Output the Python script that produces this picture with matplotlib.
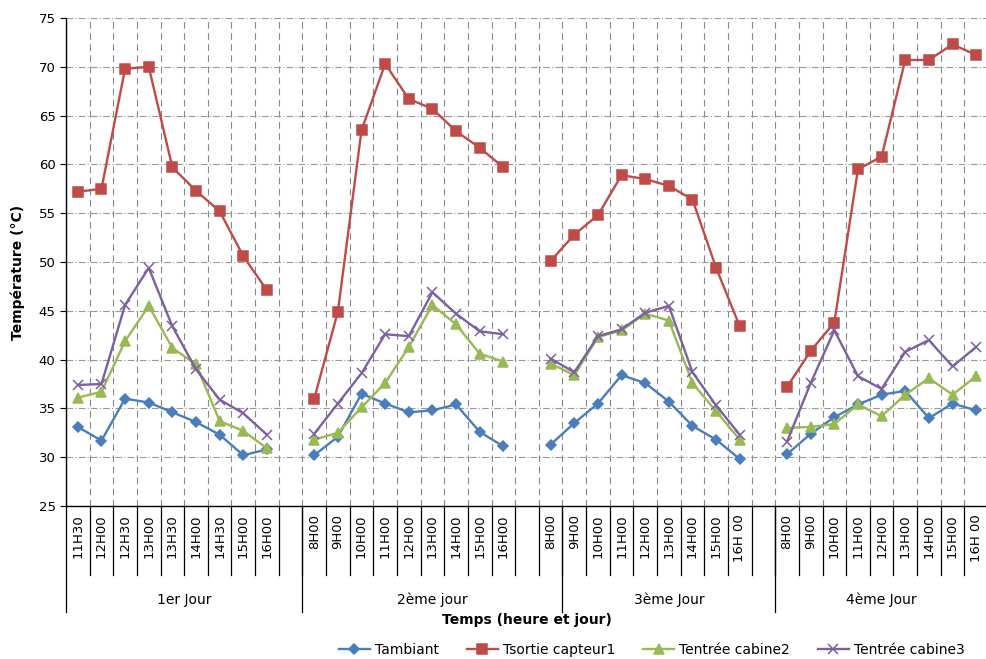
import matplotlib
matplotlib.use('Agg')
import matplotlib.pyplot as plt
import matplotlib.transforms as mtransforms
import numpy as np

plt.rcParams['font.family'] = ['DejaVu Sans']

# time labels per day
day1_labels = ['11H30', '12H00', '12H30', '13H00', '13H30', '14H00', '14H30', '15H00', '16H00']
day2_labels = ['8H00', '9H00', '10H00', '11H00', '12H00', '13H00', '14H00', '15H00', '16H00']
day3_labels = ['8H00', '9H00', '10H00', '11H00', '12H00', '13H00', '14H00', '15H00', '16H 00']
day4_labels = ['8H00', '9H00', '10H00', '11H00', '12H00', '13H00', '14H00', '15H00', '16H 00']
day_names = ['1er Jour', '2ème jour', '3ème Jour', '4ème Jour']
# number of categories under each day label (Excel grouping, gap columns included)
day_spans = [10, 11, 9, 9]

t_ambiant = [
    [33.1, 31.7, 36.0, 35.6, 34.6, 33.6, 32.3, 30.2, 30.8],
    [30.2, 32.1, 36.5, 35.5, 34.6, 34.8, 35.4, 32.6, 31.1],
    [31.3, 33.5, 35.5, 38.4, 37.6, 35.7, 33.2, 31.8, 29.8],
    [30.3, 32.4, 34.1, 35.4, 36.4, 36.8, 34.0, 35.5, 34.8],
]
t_sortie = [
    [57.2, 57.5, 69.8, 70.0, 59.7, 57.3, 55.2, 50.6, 47.1],
    [36.0, 44.9, 63.5, 70.3, 66.7, 65.7, 63.4, 61.7, 59.7],
    [50.1, 52.8, 54.8, 58.9, 58.5, 57.8, 56.4, 49.4, 43.4],
    [37.2, 40.9, 43.8, 59.5, 60.8, 70.7, 70.7, 72.3, 71.2],
]
t_cabine2 = [
    [36.1, 36.7, 41.9, 45.5, 41.2, 39.5, 33.7, 32.7, 30.9],
    [31.8, 32.5, 35.1, 37.6, 41.3, 45.6, 43.6, 40.6, 39.8],
    [39.6, 38.4, 42.3, 43.0, 44.7, 44.0, 37.6, 34.7, 31.8],
    [33.0, 33.1, 33.4, 35.4, 34.2, 36.4, 38.1, 36.4, 38.3],
]
t_cabine3 = [
    [37.4, 37.5, 45.6, 49.4, 43.4, 39.0, 35.9, 34.5, 32.3],
    [32.4, 35.5, 38.6, 42.6, 42.4, 46.9, 44.7, 42.9, 42.6],
    [40.1, 38.7, 42.4, 43.1, 44.8, 45.5, 38.7, 35.3, 32.3],
    [31.6, 37.6, 43.0, 38.3, 37.0, 40.8, 42.0, 39.3, 41.3],
]


def join_days(parts, filler):
    out = []
    for i, p in enumerate(parts):
        out += list(p)
        if i < len(parts) - 1:
            out.append(filler)
    return out


labels = join_days([day1_labels, day2_labels, day3_labels, day4_labels], '')
n = len(labels)
x = np.arange(n)

fig = plt.figure(figsize=(9.86, 6.59), dpi=100)
ax = fig.add_axes([66 / 986, (659 - 506) / 659, (988 - 66) / 986, 488 / 659])

series = [
    ('Tambiant', t_ambiant, '#4A7EBB', 'D', 5.5),
    ('Tsortie capteur1', t_sortie, '#BE4B48', 's', 7.5),
    ('Tentrée cabine2', t_cabine2, '#98B954', '^', 7),
    ('Tentrée cabine3', t_cabine3, '#7D60A0', 'x', 7),
]
for name, vals, col, mk, ms in series:
    y = np.array(join_days(vals, np.nan), dtype=float)
    ax.plot(x, y, color=col, lw=1.7, marker=mk, ms=ms, mew=1.1,
            mec=col, mfc=col, label=name, zorder=3)

ax.set_xlim(-0.5, n - 0.5)
ax.set_ylim(25, 75)
ax.set_yticks(np.arange(25, 76, 5))
ax.tick_params(axis='y', labelsize=9.5, length=4, direction='out')

ax.set_xticks(x)
ax.set_xticklabels(labels, rotation=90, fontsize=9.5, va='top')
ax.tick_params(axis='x', which='major', length=0, pad=6)
ax.set_xticks(np.arange(-0.5, n), minor=True)
ax.tick_params(axis='x', which='minor', length=0)

ax.grid(True, axis='y', which='major', color='#999999', lw=0.8, ls=(0, (6, 2, 1, 2)))
ax.grid(True, axis='x', which='minor', color='#888888', lw=0.8, ls=(0, (6, 4)))
ax.set_axisbelow(True)

for s in ['top', 'right']:
    ax.spines[s].set_visible(False)
ax.spines['left'].set_linewidth(1.0)
ax.spines['bottom'].set_linewidth(1.0)

# category separators and day grouping under the axis
trans = mtransforms.blended_transform_factory(ax.transData, ax.transAxes)
for b in np.arange(0.5, n - 1):
    ax.plot([b, b], [0, -0.142], color='black', lw=0.9, transform=trans, clip_on=False)
edges = np.concatenate([[0], np.cumsum(day_spans)]) - 0.5
for e in edges[:-1]:
    ax.plot([e, e], [0, -0.218], color='black', lw=0.9, transform=trans, clip_on=False)
for i, name in enumerate(day_names):
    ax.text((edges[i] + edges[i + 1]) / 2, -0.193, name, transform=trans,
            ha='center', va='center', fontsize=10)

ax.text(0.50, -0.234, 'Temps (heure et jour)', transform=ax.transAxes,
        ha='center', va='center', fontsize=10, fontweight='bold')
fig.text(18 / 986, 1 - 272 / 659, 'Température (°C)', rotation=90,
         ha='center', va='center', fontsize=10, fontweight='bold')

fig.legend(loc='center', bbox_to_anchor=(652 / 986, 1 - 650 / 659), ncol=4,
           frameon=False, fontsize=10, handlelength=2.2, columnspacing=2.0,
           handletextpad=0.4)

fig.savefig('out.png', dpi=100)
